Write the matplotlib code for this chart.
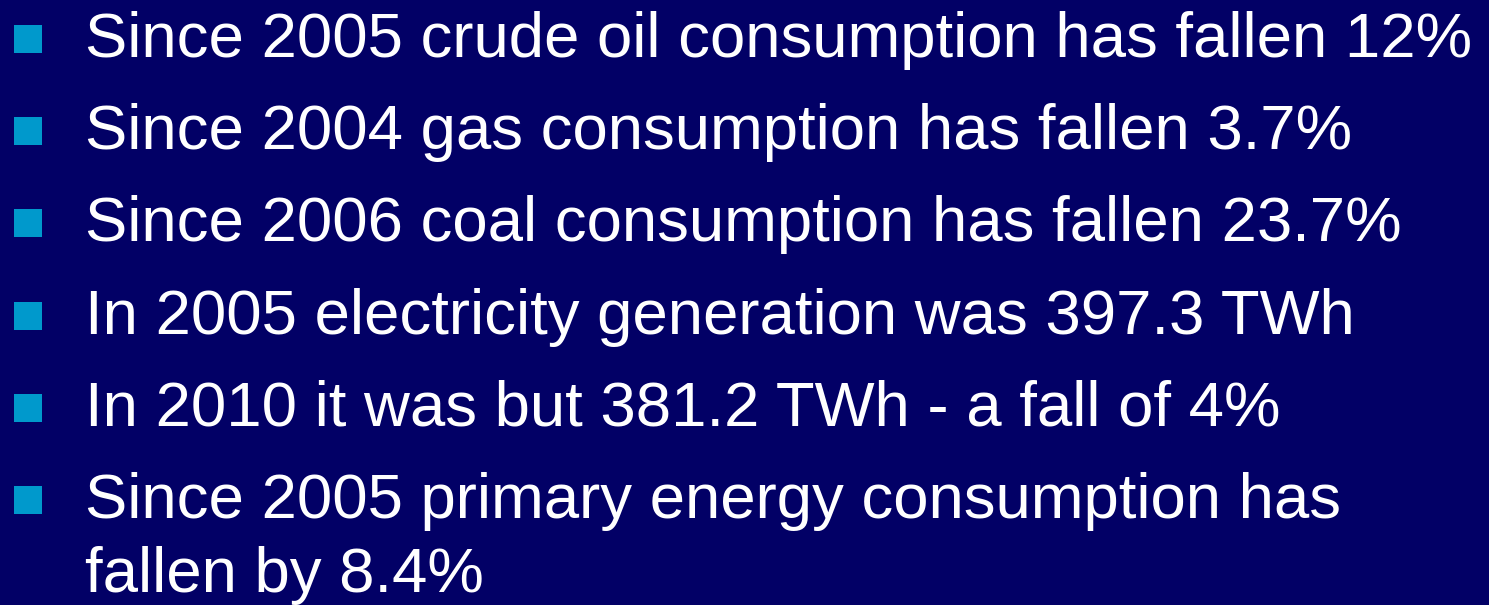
import matplotlib
matplotlib.use("Agg")
import matplotlib.pyplot as plt
from matplotlib.patches import Rectangle

# slide content
bullets = [
    ["Since 2005 crude oil consumption has fallen 12%"],
    ["Since 2004 gas consumption has fallen 3.7%"],
    ["Since 2006 coal consumption has fallen 23.7%"],
    ["In 2005 electricity generation was 397.3 TWh"],
    ["In 2010 it was but 381.2 TWh - a fall of 4%"],
    ["Since 2005 primary energy consumption has", "fallen by 8.4%"],
]

bg_color = "#020066"
bullet_color = "#0099CC"
text_color = "white"

W, H = 1489, 605
fig = plt.figure(figsize=(W / 100, H / 100), dpi=100, facecolor=bg_color)
ax = fig.add_axes([0, 0, 1, 1])
ax.set_xlim(0, W)
ax.set_ylim(H, 0)
ax.axis("off")
ax.set_facecolor(bg_color)

first_baseline = 57
item_gap = 92.2
wrap_gap = 74
text_x = 85
bullet_x = 14
bullet_size = 28
font_family = "Liberation Sans"
font_size = 45

# fit the font size so the first line spans about the same width as the slide
fig.canvas.draw()
renderer = fig.canvas.get_renderer()
probe = ax.text(0, 0, bullets[0][0], fontsize=font_size, family=font_family)
width = probe.get_window_extent(renderer).width
probe.remove()
font_size = font_size * 1387 / width

for i, lines in enumerate(bullets):
    base = first_baseline + i * item_gap
    ax.add_patch(Rectangle((bullet_x, base - 32), bullet_size, bullet_size,
                           facecolor=bullet_color, edgecolor="none"))
    for j, line in enumerate(lines):
        ax.text(text_x, base + j * wrap_gap, line, color=text_color,
                fontsize=font_size, family=font_family, va="baseline", ha="left")

fig.savefig("out.png", dpi=100, facecolor=bg_color)
